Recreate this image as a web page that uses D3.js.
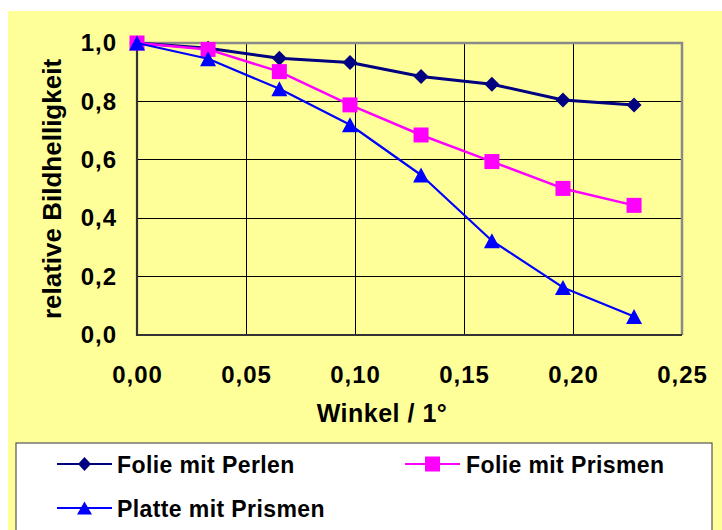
<!DOCTYPE html>
<html>
<head>
<meta charset="utf-8">
<script src="https://cdn.jsdelivr.net/npm/d3@7"></script>
<style>
  html, body { margin: 0; padding: 0; background: #ffffff; }
  svg { display: block; font-family: "Liberation Sans", Arial, sans-serif; font-weight: bold; }
</style>
</head>
<body>
<svg id="chart" width="722" height="530"></svg>
<script>
// ---- data ----
const angles = [0, 0.0326, 0.0653, 0.0977, 0.1303, 0.1628, 0.1954, 0.2280];
const folieMitPerlen  = [1.000, 0.982, 0.948, 0.933, 0.885, 0.859, 0.805, 0.788];
const folieMitPrismen = [1.000, 0.978, 0.902, 0.788, 0.685, 0.594, 0.502, 0.444];
const platteMitPrismen = [1.000, 0.946, 0.843, 0.720, 0.548, 0.323, 0.163, 0.063];
const seriesNames = ["Folie mit Perlen", "Folie mit Prismen", "Platte mit Prismen"];
const xTicks = [0, 0.05, 0.10, 0.15, 0.20, 0.25];
const yTicks = [0, 0.2, 0.4, 0.6, 0.8, 1.0];
const xTitle = "Winkel / 1°";
const yTitle = "relative Bildhelligkeit";

const series = [
  { name: seriesNames[0], values: folieMitPerlen,  color: "#000080", width: 3,   marker: "diamond" },
  { name: seriesNames[1], values: folieMitPrismen, color: "#FF00FF", width: 2.5, marker: "square" },
  { name: seriesNames[2], values: platteMitPrismen, color: "#0000FF", width: 2.2, marker: "triangle" }
];

const de = d3.formatLocale({ decimal: ",", thousands: ".", grouping: [3], currency: ["", " €"] });

const svg = d3.select("#chart");
// chart area background
svg.append("rect").attr("x", 8).attr("y", 11).attr("width", 714).attr("height", 519).attr("fill", "#FFFF99");

const L = 137, R = 682, T = 43, B = 335;
const x = d3.scaleLinear().domain([0, 0.25]).range([L, R]);
const y = d3.scaleLinear().domain([0, 1]).range([B, T]);

// gridlines
const g = svg.append("g");
g.selectAll("line.vg").data(xTicks.slice(1, -1)).join("line")
  .attr("x1", d => x(d)).attr("x2", d => x(d)).attr("y1", T).attr("y2", B)
  .attr("stroke", "#000").attr("stroke-width", 1).attr("shape-rendering", "crispEdges");
g.selectAll("line.hg").data(yTicks.slice(1, -1)).join("line")
  .attr("x1", L).attr("x2", R).attr("y1", d => y(d)).attr("y2", d => y(d))
  .attr("stroke", "#000").attr("stroke-width", 1).attr("shape-rendering", "crispEdges");

// top & right plot border (gray)
svg.append("path").attr("d", `M${L},${T}H${R}V${B}`).attr("fill", "none")
  .attr("stroke", "#8a8a8a").attr("stroke-width", 2.5);

// axes
const xAxis = d3.axisBottom(x).tickValues(xTicks).tickFormat(de.format(".2f")).tickSize(0).tickPadding(31);
const yAxis = d3.axisLeft(y).tickValues(yTicks).tickFormat(de.format(".1f")).tickSize(0).tickPadding(20);
const gx = svg.append("g").attr("transform", `translate(0,${B})`).call(xAxis);
const gy = svg.append("g").attr("transform", `translate(${L},0)`).call(yAxis);
[gx, gy].forEach(a => {
  a.select(".domain").remove();
  a.selectAll("text").attr("font-size", 24).attr("font-weight", "bold").attr("fill", "#000")
    .attr("letter-spacing", 1).attr("font-family", "'Liberation Sans', Arial, sans-serif");
});
// axis lines
svg.append("path").attr("d", `M${L},${T}V${B}H${R}`).attr("fill", "none")
  .attr("stroke", "#333").attr("stroke-width", 2.2);

// axis titles
svg.append("text").attr("x", 382).attr("y", 421.5).attr("text-anchor", "middle")
  .attr("font-size", 25).attr("letter-spacing", 0.5).text(xTitle);
svg.append("text").attr("transform", "translate(61,189) rotate(-90)").attr("text-anchor", "middle")
  .attr("font-size", 26).text(yTitle);

// marker shapes
const shapes = {
  diamond: (w, h) => ({ draw(ctx) { ctx.moveTo(0, -h / 2); ctx.lineTo(w / 2, 0); ctx.lineTo(0, h / 2); ctx.lineTo(-w / 2, 0); ctx.closePath(); } }),
  square: (w, h) => ({ draw(ctx) { ctx.rect(-w / 2, -h / 2, w, h); } }),
  triangle: (w, h) => ({ draw(ctx) { ctx.moveTo(0, -h / 2); ctx.lineTo(w / 2, h / 2); ctx.lineTo(-w / 2, h / 2); ctx.closePath(); } })
};
const plotSize = { diamond: [15, 15], square: [15, 15], triangle: [16, 15] };
const legendSize = { diamond: [13, 14], square: [15, 15], triangle: [15, 13] };

const line = d3.line().x((d, i) => x(angles[i])).y(d => y(d));
series.forEach(s => {
  const gs = svg.append("g");
  gs.append("path").attr("d", line(s.values)).attr("fill", "none")
    .attr("stroke", s.color).attr("stroke-width", s.width).attr("stroke-linejoin", "round");
  const sym = d3.symbol().type(shapes[s.marker](...plotSize[s.marker]));
  gs.selectAll("path.m").data(s.values).join("path").attr("class", "m")
    .attr("transform", (d, i) => `translate(${x(angles[i])},${y(d)})`)
    .attr("d", sym()).attr("fill", s.color);
});

// legend
svg.append("rect").attr("x", 16).attr("y", 443).attr("width", 696).attr("height", 100)
  .attr("fill", "#fff").attr("stroke", "#555").attr("stroke-width", 1.2);
const legendPos = [
  { lx: 57, ly: 464, tx: 117, ty: 472.7 },
  { lx: 405, ly: 464, tx: 466, ty: 472.7 },
  { lx: 57, ly: 508, tx: 117, ty: 516.7 }
];
series.forEach((s, i) => {
  const p = legendPos[i];
  const lg = svg.append("g");
  lg.append("line").attr("x1", p.lx).attr("x2", p.lx + 55).attr("y1", p.ly).attr("y2", p.ly)
    .attr("stroke", s.color).attr("stroke-width", 2.2);
  lg.append("path").attr("transform", `translate(${p.lx + 27.5},${p.ly})`)
    .attr("d", d3.symbol().type(shapes[s.marker](...legendSize[s.marker]))()).attr("fill", s.color);
  lg.append("text").attr("x", p.tx).attr("y", p.ty).attr("font-size", 23).attr("letter-spacing", 0.4)
    .attr("fill", "#000").text(s.name);
});
</script>
</body>
</html>
